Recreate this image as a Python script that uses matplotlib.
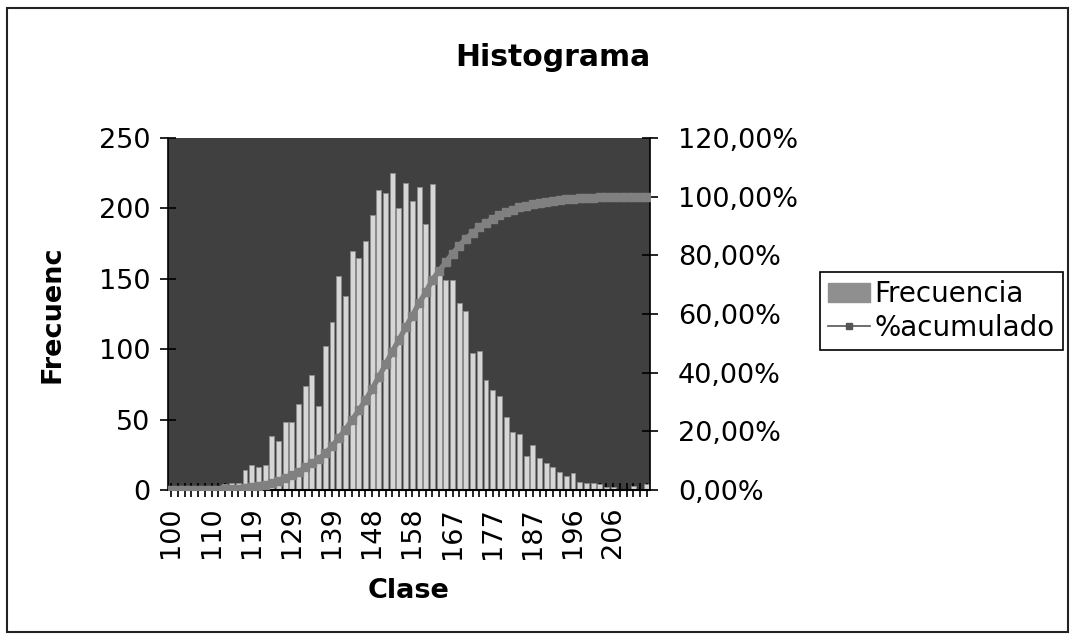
import matplotlib
matplotlib.use("Agg")
import matplotlib.pyplot as plt
import numpy as np
from matplotlib.patches import Patch, Rectangle
from matplotlib.lines import Line2D
from matplotlib.ticker import FuncFormatter

plt.rcParams['font.family'] = ['DejaVu Sans']

# Class marks (Excel auto bins, 72 classes)
clase = [100, 102, 103, 105, 106, 108, 110, 111, 113, 114, 116, 118,
         119, 121, 122, 124, 126, 127, 129, 130, 132, 134, 135, 137,
         139, 140, 142, 143, 145, 147, 148, 150, 151, 153, 155, 156,
         158, 159, 161, 163, 164, 166, 167, 169, 171, 172, 174, 175,
         177, 179, 180, 182, 183, 185, 187, 188, 190, 191, 193, 195,
         196, 198, 199, 201, 203, 204, 206, 208, 209, 211, 212, 214]

frecuencia = [0, 0, 0, 1, 1, 1, 2, 3, 4, 5, 5, 14,
              18, 16, 18, 38, 35, 48, 48, 61, 74, 82, 60, 102,
              119, 152, 138, 170, 165, 177, 195, 213, 211, 225, 200, 218,
              205, 215, 189, 217, 155, 149, 149, 133, 127, 97, 99, 78,
              71, 67, 52, 41, 40, 24, 32, 23, 19, 16, 13, 10,
              12, 6, 5, 5, 4, 2, 2, 1, 1, 3, 1, 4]

label_step = 6

W, H = 1070, 636
fig = plt.figure(figsize=(W / 100, H / 100), dpi=100)
fig.patch.set_facecolor('white')

# outer chart frame
fig.add_artist(Rectangle((7 / W, 1 - 632 / H), (1068 - 7) / W, (632 - 8) / H,
                         transform=fig.transFigure, fill=False,
                         edgecolor='#222222', linewidth=1.5))

ax = fig.add_axes([168 / W, 1 - 490 / H, (650 - 168) / W, (490 - 138) / H])
ax.set_facecolor('#404040')

x = np.arange(len(frecuencia))
freq = np.array(frecuencia, dtype=float)
acum = np.cumsum(freq) / freq.sum()

ax.bar(x, freq, width=0.74, color='#d6d6d6', edgecolor='#8c8c8c',
       linewidth=0.6, zorder=2)
ax.set_xlim(-0.5, len(x) - 0.5)
ax.set_ylim(0, 250)
ax.set_yticks([0, 50, 100, 150, 200, 250])
ax.set_xticks(x)
ax.set_xticklabels([str(c) if i % label_step == 0 else '' for i, c in enumerate(clase)],
                   rotation=90)
ax.tick_params(axis='x', direction='inout', length=10, width=1.2, labelsize=19.5, pad=7)
ax.tick_params(axis='y', direction='inout', length=11, width=1.2, labelsize=19.5, pad=7)
ax.spines['top'].set_visible(False)
ax.spines['right'].set_visible(False)
ax.spines['left'].set_linewidth(1.2)
ax.spines['bottom'].set_linewidth(1.5)

ax.set_xlabel('Clase', fontsize=19.5, fontweight='bold', labelpad=14)
ax.set_ylabel('Frecuenc', fontsize=19.5, fontweight='bold', labelpad=24)

ax2 = ax.twinx()
ax2.plot(x, acum, color='#808080', linewidth=3.8, marker='s', markersize=6,
         markerfacecolor='#808080', markeredgecolor='#808080', zorder=3)
ax2.set_ylim(0, 1.2)
ax2.set_yticks([0, 0.2, 0.4, 0.6, 0.8, 1.0, 1.2])
ax2.yaxis.set_major_formatter(FuncFormatter(lambda v, p: f"{v*100:.2f}%".replace('.', ',')))
ax2.tick_params(axis='y', direction='inout', length=12, width=1.2, labelsize=19.5, pad=14)
for s in ['top', 'left', 'bottom']:
    ax2.spines[s].set_visible(False)
ax2.spines['right'].set_linewidth(1.2)

fig.text(553 / W, 1 - 58 / H, 'Histograma', fontsize=21.5, fontweight='bold',
         ha='center', va='center')

handles = [Patch(facecolor='#8f8f8f', edgecolor='#8f8f8f', label='Frecuencia'),
           Line2D([0], [0], color='#555555', linewidth=1.2, marker='s',
                  markersize=5, label='%acumulado')]
leg = fig.legend(handles=handles, loc='center left',
                 bbox_to_anchor=(820 / W, 1 - 311 / H), fontsize=20,
                 frameon=True, fancybox=False, framealpha=1,
                 edgecolor='black', borderpad=0.3, handlelength=1.5,
                 handletextpad=0.15, labelspacing=0.2, borderaxespad=0)
leg.get_frame().set_linewidth(1.2)

fig.savefig('out.png', dpi=100)
